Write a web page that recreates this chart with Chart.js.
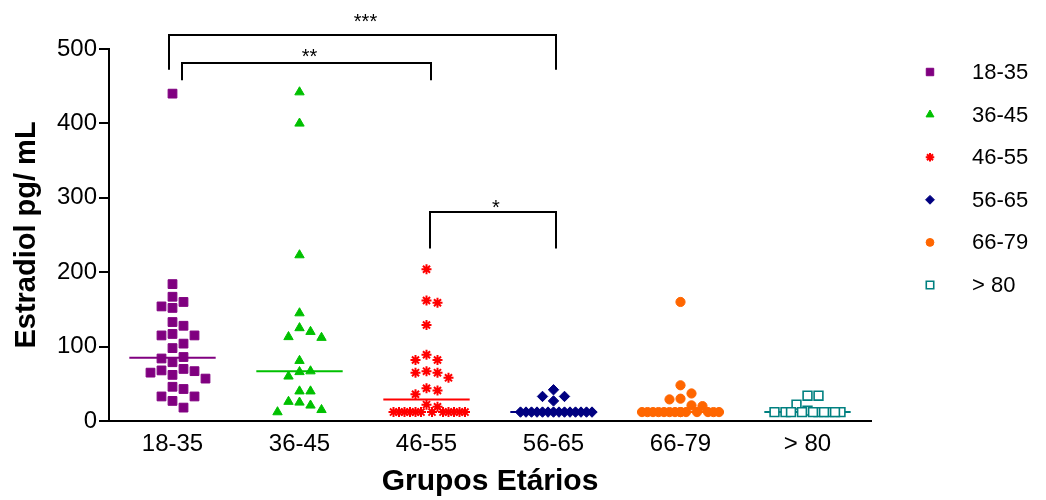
<!DOCTYPE html>
<html lang="pt">
<head>
<meta charset="UTF-8">
<title>Estradiol por grupo etário</title>
<script src="https://cdn.jsdelivr.net/npm/chart.js@4.4.0/dist/chart.umd.min.js"></script>
<style>
  body { margin: 0; background: #fff; }
  canvas { display: block; }
</style>
</head>
<body>
<canvas id="estradiolChart" width="1046" height="500"></canvas>
<script>
// grupos etários e valores de estradiol (pg/mL) por grupo
var groups = ["18-35", "36-45", "46-55", "56-65", "66-79", "> 80"];
var g1835 = [440, 184, 167, 160, 154, 152, 133, 128, 117, 115, 115, 104, 98, 86, 84, 79, 70, 68, 67, 65, 62, 57, 46, 43, 33, 33, 27, 18];
var g3645 = [442, 400, 223, 145, 125, 120, 113, 112, 81, 67, 66, 60, 40, 40, 26, 25, 21, 15, 12];
var g4655 = [204, 162, 159, 129, 89, 82, 82, 67, 65, 65, 58, 44, 41, 36, 22, 19, 12, 12, 12, 12, 12, 12, 12, 12, 12, 12, 12, 12];
var g5665 = [42, 33, 33, 27, 12, 12, 12, 12, 12, 12, 12, 12, 12, 12, 12, 12, 12, 12];
var g6679 = [160, 48, 37, 30, 29, 21, 20, 12, 12, 12, 12, 12, 12, 12, 12, 12, 12, 12, 12, 12, 12];
var g80 = [34, 34, 22, 14, 12, 12, 12, 12, 12, 12, 12, 12, 12, 12];
var groupValues = [g1835, g3645, g4655, g5665, g6679, g80];
var yTicks = [0, 100, 200, 300, 400, 500];

// comparações significativas: grupo inicial, grupo final, asteriscos e alturas (pg/mL)
var sigFrom = [0, 0, 2];
var sigTo = [3, 2, 3];
var sigLabel = ["***", "**", "*"];
var sigTop = [519, 481, 281];
var sigLeg = [472, 458, 232];
var sigText = [543, 496, 293];

var colors = ["#800080", "#00c000", "#ff0000", "#000080", "#ff6600", "#008080"];
var pointStyles = ["rect", "triangle", "star", "rectRot", "circle", "rect"];
var radii = [6.2, 5.4, 5, 5.2, 4.6, 6.2];
var fills = ["#800080", "#00c000", "#ff0000", "#000080", "#ff6600", "#ffffff"];
var borderW = [1, 1, 2, 1, 1, 1.6];
// pequeno deslocamento horizontal das hastes dos colchetes (em unidades de grupo)
var legNudge = [[-0.03, 0.02], [0.075, 0.035], [0.03, 0.02]];

var FONT = 'Arial, "Liberation Sans", sans-serif';

// espalhamento horizontal dos pontos (tipo beeswarm), em pixels aproximados
var PX_X = 127, PX_Y = 372 / 500;
var STEP = 5.5, DOT_W = 11, DOT_H = 11, MAX_HALF = 38.5;

function swarm(values, center) {
  var placed = [];
  var order = values.map(function (v, i) { return i; }).sort(function (a, b) { return values[b] - values[a]; });
  order.forEach(function (idx) {
    var py = values[idx] * PX_Y;
    var best = null;
    [DOT_W, DOT_W / 2, 0].some(function (minDx) {
      for (var k = 0; k < 30; k++) {
        var s = k === 0 ? 0 : (k % 2 ? Math.ceil(k / 2) : -Math.ceil(k / 2));
        var px = s * STEP;
        if (Math.abs(px) > MAX_HALF) continue;
        var ok = placed.every(function (p) {
          return Math.abs(p.px - px) >= minDx - 1e-6 || Math.abs(p.py - py) >= DOT_H;
        });
        if (ok) { best = px; return true; }
      }
      return false;
    });
    placed.push({ px: best, py: py, v: values[idx] });
  });
  return placed.map(function (p) { return { x: center + p.px / PX_X, y: p.v }; });
}

function median(arr) {
  var s = arr.slice().sort(function (a, b) { return a - b; });
  var m = Math.floor(s.length / 2);
  return s.length % 2 ? s[m] : (s[m - 1] + s[m]) / 2;
}

var datasets = [];
groups.forEach(function (g, i) {
  datasets.push({
    label: g,
    data: swarm(groupValues[i], i),
    pointStyle: pointStyles[i],
    pointRadius: radii[i],
    backgroundColor: fills[i],
    borderColor: colors[i],
    borderWidth: borderW[i],
    showLine: false
  });
});
// linhas da mediana
groups.forEach(function (g, i) {
  var med = median(groupValues[i]);
  datasets.push({
    label: g + " mediana",
    data: [{ x: i - 0.34, y: med }, { x: i + 0.34, y: med }],
    showLine: true,
    borderColor: colors[i],
    borderWidth: 2,
    pointRadius: 0
  });
});

var bracketPlugin = {
  id: "brackets",
  afterDatasetsDraw: function (chart) {
    var ctx = chart.ctx, xs = chart.scales.x, ys = chart.scales.y;
    var fs = 20;
    ctx.save();
    ctx.strokeStyle = "#000";
    ctx.lineWidth = 2;
    ctx.fillStyle = "#000";
    ctx.font = fs + "px " + FONT;
    ctx.textAlign = "center";
    ctx.textBaseline = "alphabetic";
    for (var i = 0; i < sigFrom.length; i++) {
      var x1 = Math.round(xs.getPixelForValue(sigFrom[i] + legNudge[i][0]));
      var x2 = Math.round(xs.getPixelForValue(sigTo[i] + legNudge[i][1]));
      var yt = Math.round(ys.getPixelForValue(sigTop[i]));
      var yl = ys.getPixelForValue(sigLeg[i]);
      ctx.beginPath();
      ctx.moveTo(x1, yl);
      ctx.lineTo(x1, yt);
      ctx.lineTo(x2, yt);
      ctx.lineTo(x2, yl);
      ctx.stroke();
      // o asterisco fica perto do topo da caixa do texto
      ctx.fillText(sigLabel[i], (x1 + x2) / 2 + 3, ys.getPixelForValue(sigText[i]) + fs * 0.57);
    }
    ctx.restore();
  }
};

var legendPlugin = {
  id: "sideLegend",
  afterDraw: function (chart) {
    var ctx = chart.ctx;
    ctx.save();
    ctx.font = "22px " + FONT;
    ctx.textBaseline = "middle";
    ctx.textAlign = "left";
    groups.forEach(function (g, i) {
      var y = 72 + i * 42.6;
      ctx.fillStyle = fills[i];
      ctx.strokeStyle = colors[i];
      ctx.lineWidth = borderW[i];
      Chart.helpers.drawPoint(ctx, {
        pointStyle: pointStyles[i],
        radius: radii[i] * 0.85,
        rotation: 0,
        borderWidth: borderW[i]
      }, 930, y);
      ctx.fillStyle = "#000";
      ctx.fillText(g, 972, y + 1);
    });
    ctx.restore();
  }
};

new Chart(document.getElementById("estradiolChart"), {
  type: "scatter",
  data: { datasets: datasets },
  options: {
    responsive: false,
    animation: false,
    layout: { padding: { top: 49, right: 175, left: 0, bottom: 0 } },
    plugins: { legend: { display: false }, tooltip: { enabled: false } },
    scales: {
      x: {
        type: "linear",
        min: -0.5,
        max: 5.5,
        afterBuildTicks: function (s) { s.ticks = groups.map(function (g, i) { return { value: i }; }); },
        afterFit: function (s) { s.height = 79; },
        ticks: {
          callback: function (v) { return groups[v]; },
          color: "#000",
          font: { family: FONT, size: 24 },
          padding: 9
        },
        grid: { display: false, drawTicks: false },
        border: { display: true, color: "#000", width: 2 },
        title: {
          display: true,
          text: "Grupos Etários",
          color: "#000",
          font: { family: FONT, size: 30, weight: "bold" },
          padding: { top: 0, bottom: 0 }
        }
      },
      y: {
        min: 0,
        max: 500,
        afterBuildTicks: function (s) { s.ticks = yTicks.map(function (v) { return { value: v }; }); },
        afterFit: function (s) { s.width = 109; },
        ticks: {
          color: "#000",
          font: { family: FONT, size: 24 },
          padding: 2
        },
        grid: { drawOnChartArea: false, drawTicks: true, tickLength: 10, color: "#000", lineWidth: 2 },
        border: { display: true, color: "#000", width: 2 },
        title: {
          display: true,
          text: "Estradiol pg/ mL",
          color: "#000",
          font: { family: FONT, size: 29, weight: "bold" },
          padding: { top: 10, bottom: 0 }
        }
      }
    }
  },
  plugins: [bracketPlugin, legendPlugin]
});
</script>
</body>
</html>
